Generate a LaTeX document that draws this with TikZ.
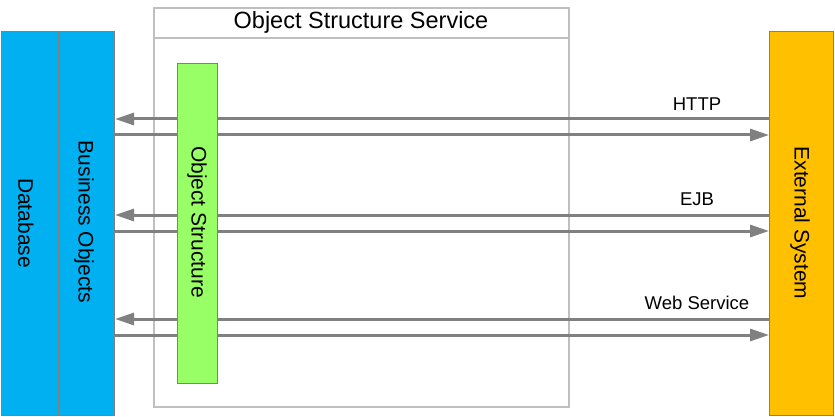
\documentclass[tikz,border=0pt]{standalone}
\usepackage{fontspec}
\setmainfont{Liberation Sans}
\usetikzlibrary{arrows.meta}
\definecolor{dbblue}{HTML}{00B0F0}
\definecolor{osgreen}{HTML}{99FF66}
\definecolor{extorange}{HTML}{FFC000}
\definecolor{arrgray}{HTML}{808080}
\definecolor{svcgray}{HTML}{BFBFBF}
\tikzset{
  box/.style={draw=arrgray, line width=1pt, inner sep=0pt, anchor=north west},
  arr/.style={draw=arrgray, line width=3pt, -{Triangle[length=19pt,width=12pt]}, shorten >=0pt},
  lbl/.style={font=\fontsize{18.5}{22}\selectfont, inner sep=0pt},
  vlbl/.style={font=\fontsize{21}{25}\selectfont, rotate=-90, inner sep=0pt},
}
\begin{document}
\begin{tikzpicture}[x=1pt,y=-1pt]
\useasboundingbox (0,0) rectangle (835,417);
% service box
\node[draw=svcgray, line width=2pt, inner sep=0pt, anchor=north west, minimum width=415pt, minimum height=399pt] (svc) at (153,7) {};
\coordinate (t1) at (153,38);
\draw[svcgray, line width=2pt] (svc.west |- t1) -- (svc.east |- t1);
\node[font=\fontsize{23.5}{28}\selectfont, inner sep=0pt] (title) at (361,22) {Object Structure Service};
% left blue boxes
\node[box, fill=dbblue, minimum width=56.5pt, minimum height=384pt] (db) at (1,31) {};
\node[box, fill=dbblue, minimum width=56.5pt, minimum height=384pt] (bo) at (57.5,31) {};
\node[vlbl] (dbt) at (26,223) {Database};
\node[vlbl] (bot) at (84,222) {Business Objects};
% external system
\node[box, fill=extorange, minimum width=64pt, minimum height=384pt] (ext) at (769,31) {};
\node[vlbl] (extt) at (800,223) {External System};
% arrows
\coordinate (a1) at (0,119);
\coordinate (a2) at (0,135);
\coordinate (b1) at (0,215);
\coordinate (b2) at (0,231);
\coordinate (c1) at (0,319);
\coordinate (c2) at (0,335);
\draw[arr] (ext.west |- a1) -- (bo.east |- a1);
\draw[arr] (bo.east |- a2) -- (ext.west |- a2);
\draw[arr] (ext.west |- b1) -- (bo.east |- b1);
\draw[arr] (bo.east |- b2) -- (ext.west |- b2);
\draw[arr] (ext.west |- c1) -- (bo.east |- c1);
\draw[arr] (bo.east |- c2) -- (ext.west |- c2);
% green object structure (on top of arrows)
\node[box, fill=osgreen, minimum width=40pt, minimum height=320pt] (os) at (177,63) {};
\node[vlbl] (ost) at (197,222) {Object Structure};
% labels
\node[lbl] (http) at (697,104) {HTTP};
\node[lbl] (ejb) at (697,199) {EJB};
\node[lbl] (ws) at (697,303) {Web Service};
\end{tikzpicture}
\end{document}
